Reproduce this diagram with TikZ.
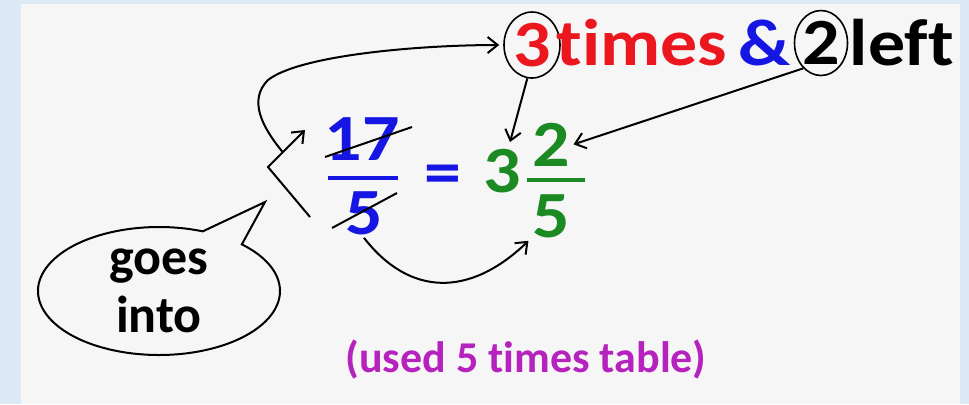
\documentclass[tikz,border=0pt]{standalone}
\usepackage{fontspec}
\setmainfont{Carlito}[Ligatures=NoCommon]
\usetikzlibrary{arrows.meta,positioning,shapes.geometric,shapes.callouts,calc}

\definecolor{framecol}{RGB}{221,233,245}
\definecolor{panelcol}{RGB}{246,246,246}
\definecolor{tred}{RGB}{235,22,30}
\definecolor{tblue}{RGB}{22,22,228}
\definecolor{tgreen}{RGB}{28,138,34}
\definecolor{tpurple}{RGB}{182,34,190}

\begin{document}
\begin{tikzpicture}[x=0.5pt, y=-0.5pt, every node/.style={inner sep=1.5pt}, big/.style={font=\fontsize{33}{38}\selectfont\bfseries, xscale=1.12, transform shape}, ring/.style={font=\fontsize{33}{38}\selectfont\bfseries, draw, ellipse, line width=0.8pt, inner sep=0pt}, conn/.style={-{Straight Barb[length=5pt,width=8pt]}, line width=1pt}, strike/.style={line width=1pt}, bar/.style={line width=2pt}]
\fill[framecol] (0,0) rectangle (969,404);
\fill[panelcol] (21,4) rectangle (960,404);
\useasboundingbox (0,0) rectangle (969,404);
% top line
\node[ring, text=tred, minimum width=28pt, minimum height=33pt] (n3) at (532,45) {\scalebox{1.12}[1]{3}};
\node[big, text=tred, anchor=base west] (times) at (553,65) {times};
\node[big, text=tblue, anchor=base west] (amp) at (735,65) {\&};
\node[ring, minimum width=26.5pt, minimum height=32.5pt] (n2) at (821,43) {\scalebox{1.12}[1]{2}};
\node[big, anchor=base west] (left) at (846,65) {left};
% 17/5
\node[big, text=tblue, anchor=base] (f17) at (362,160) {17};
\node[big, text=tblue, anchor=base] (f5) at (364,234) {5};
\draw[bar, tblue] (328,178) -- (398,178);
\draw[strike] (325,157) -- (412,127);
\draw[strike] (332,228) -- (397,193);
\node[big, text=tblue] (eq) at (443,180) {=};
% 3 2/5
\node[big, text=tgreen, anchor=base] (g3) at (502,192) {3};
\node[big, text=tgreen, anchor=base] (g2) at (551,166) {2};
\node[big, text=tgreen, anchor=base] (g5) at (551,237) {5};
\draw[bar, tgreen] (527,180) -- (585,180);
% bubble
\node[ellipse callout, draw, fill=panelcol, line width=1pt, minimum width=121pt, minimum height=64pt, callout absolute pointer={(265,202)}, callout pointer arc=22, align=center, inner sep=0pt, font=\fontsize{26}{29}\selectfont\bfseries] (bubble) at (159,291) {goes\\into};
\node[text=tpurple, font=\fontsize{22}{26}\selectfont\bfseries, anchor=base] (note) at (526,372) {(used 5 times table)};
% arrows
\coordinate (s5) at (310,217);
\coordinate (kink) at (268,167);
\coordinate (t17) at (305,130);
\coordinate (jn) at ($(kink)!0.4!(t17)$);
\coordinate (t3) at (510,142);
\draw[conn] (s5) -- (kink) -- (t17);
\draw[conn, shorten >=2pt] (jn) .. controls (262,127) and (248,100) .. (268,80) .. controls (300,55) and (420,45) .. (n3.west);
\draw[conn] (n3.262) -- (t3);
\draw[conn] (n2.235) -- (g2.east);
\draw[conn] (f5.south) .. controls (410,297) and (470,297) .. (g5.south west);
\end{tikzpicture}
\end{document}
